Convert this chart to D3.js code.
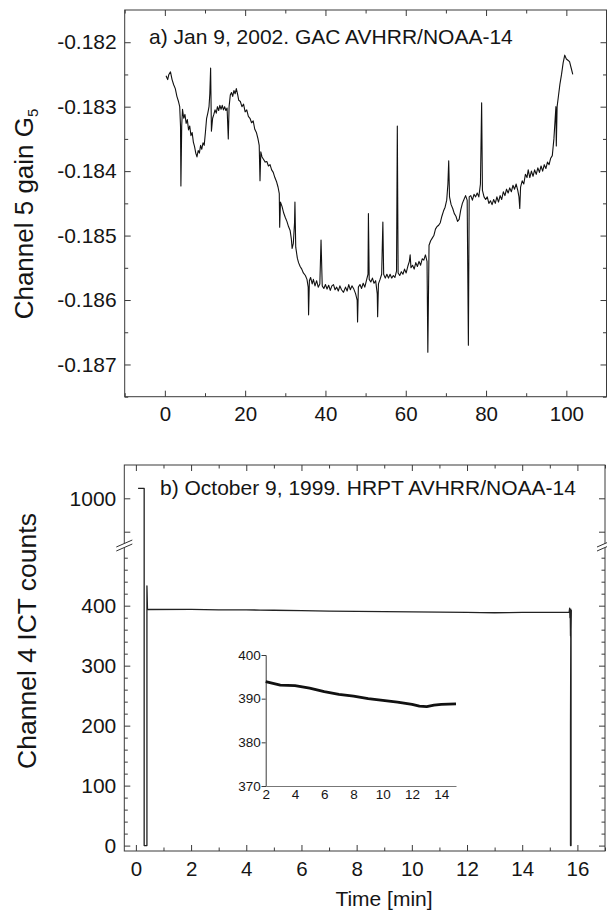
<!DOCTYPE html>
<html><head><meta charset="utf-8">
<script src="https://cdn.jsdelivr.net/npm/d3@7"></script>
<style>
body{margin:0;background:#fff}
svg{display:block}
text{font-family:"Liberation Sans",Arial,Helvetica,sans-serif;fill:#151515}
</style>
</head><body>
<svg id="chart" width="607" height="911"></svg>
<script>
// ---------- Panel a: Channel 5 gain G5, Jan 9 2002 ----------
const gainTime = [0.3,0.7,1.0,1.4,1.8,2.2,2.6,3.0,3.4,3.7,3.9,4.0,4.2,4.4,4.7,5.0,5.3,5.6,5.9,6.2,6.5,6.8,7.1,7.4,7.7,8.0,8.3,8.6,8.9,9.2,9.5,9.8,10.1,10.4,10.7,11.0,11.2,11.4,11.6,11.9,12.2,12.5,12.8,13.1,13.4,13.7,14.0,14.3,14.6,14.9,15.2,15.5,15.8,16.0,16.3,16.6,16.9,17.2,17.5,17.8,18.1,18.4,18.8,19.2,19.6,20.0,20.4,20.8,21.2,21.6,22.0,22.4,22.8,23.2,23.5,23.7,23.9,24.2,24.6,25.0,25.4,25.8,26.2,26.6,27.0,27.4,27.8,28.2,28.5,28.6,28.8,29.2,29.6,30.0,30.4,30.8,31.2,31.5,31.7,32.0,32.3,32.4,32.6,33.0,33.3,33.7,34.1,34.5,35.0,35.4,35.7,35.8,36.0,36.3,36.7,37.0,37.4,37.8,38.2,38.6,38.9,39.2,39.6,40.0,40.4,40.8,41.2,41.6,42.0,42.4,42.8,43.2,43.6,44.0,44.5,45.0,45.4,45.8,46.2,46.6,47.0,47.5,47.9,48.0,48.2,48.6,49.0,49.4,49.8,50.2,50.6,50.7,50.9,51.3,51.7,52.1,52.5,52.9,53.0,53.2,53.6,54.0,54.3,54.5,54.9,55.3,55.7,56.1,56.5,56.9,57.3,57.7,57.9,58.1,58.5,58.9,59.3,59.7,60.1,60.5,60.9,61.1,61.3,61.7,62.1,62.5,62.9,63.3,63.7,64.1,64.5,64.9,65.3,65.5,65.8,66.2,66.6,67.0,67.4,67.8,68.2,68.6,69.0,69.4,69.8,70.2,70.5,70.7,70.9,71.3,71.7,72.1,72.5,72.9,73.3,73.7,74.1,74.5,74.9,75.3,75.6,75.8,76.2,76.6,77.0,77.4,77.8,78.2,78.6,78.9,79.1,79.5,79.9,80.3,80.7,81.1,81.5,81.9,82.3,82.7,83.1,83.5,83.9,84.3,84.7,85.1,85.5,85.9,86.3,86.7,87.1,87.5,87.9,88.2,88.4,88.6,89.0,89.4,89.8,90.2,90.5,90.9,91.3,91.7,92.1,92.5,92.9,93.3,93.7,94.1,94.5,94.9,95.3,95.7,96.1,96.5,96.9,97.2,97.4,97.5,97.7,98.0,98.4,98.8,99.2,99.6,100.0,100.4,100.8,101.2,101.6];
const gainValue = [-0.18252,-0.18258,-0.18250,-0.18246,-0.18258,-0.18266,-0.18272,-0.18284,-0.18292,-0.18300,-0.18330,-0.18423,-0.18330,-0.18304,-0.18318,-0.18312,-0.18326,-0.18320,-0.18336,-0.18330,-0.18345,-0.18340,-0.18355,-0.18362,-0.18372,-0.18378,-0.18368,-0.18372,-0.18360,-0.18366,-0.18356,-0.18360,-0.18340,-0.18318,-0.18310,-0.18300,-0.18280,-0.18240,-0.18338,-0.18318,-0.18312,-0.18305,-0.18310,-0.18300,-0.18306,-0.18298,-0.18304,-0.18298,-0.18305,-0.18300,-0.18306,-0.18302,-0.18350,-0.18300,-0.18282,-0.18278,-0.18284,-0.18275,-0.18280,-0.18272,-0.18280,-0.18290,-0.18292,-0.18300,-0.18296,-0.18308,-0.18305,-0.18315,-0.18318,-0.18325,-0.18322,-0.18335,-0.18340,-0.18350,-0.18360,-0.18415,-0.18370,-0.18378,-0.18382,-0.18386,-0.18385,-0.18392,-0.18390,-0.18398,-0.18402,-0.18410,-0.18416,-0.18425,-0.18435,-0.18487,-0.18448,-0.18455,-0.18465,-0.18472,-0.18478,-0.18486,-0.18492,-0.18505,-0.18520,-0.18512,-0.18480,-0.18448,-0.18518,-0.18535,-0.18542,-0.18548,-0.18552,-0.18558,-0.18562,-0.18568,-0.18580,-0.18623,-0.18570,-0.18565,-0.18575,-0.18568,-0.18578,-0.18570,-0.18580,-0.18575,-0.18507,-0.18578,-0.18582,-0.18576,-0.18583,-0.18577,-0.18585,-0.18578,-0.18576,-0.18584,-0.18580,-0.18586,-0.18578,-0.18584,-0.18588,-0.18580,-0.18586,-0.18576,-0.18584,-0.18578,-0.18582,-0.18590,-0.18600,-0.18634,-0.18580,-0.18576,-0.18582,-0.18574,-0.18580,-0.18570,-0.18560,-0.18466,-0.18568,-0.18572,-0.18566,-0.18574,-0.18570,-0.18590,-0.18626,-0.18575,-0.18568,-0.18560,-0.18479,-0.18560,-0.18566,-0.18560,-0.18566,-0.18560,-0.18566,-0.18562,-0.18565,-0.18555,-0.18330,-0.18558,-0.18562,-0.18556,-0.18560,-0.18552,-0.18558,-0.18548,-0.18540,-0.18530,-0.18550,-0.18546,-0.18552,-0.18542,-0.18548,-0.18540,-0.18546,-0.18536,-0.18538,-0.18530,-0.18540,-0.18681,-0.18515,-0.18508,-0.18504,-0.18500,-0.18490,-0.18486,-0.18484,-0.18480,-0.18470,-0.18462,-0.18456,-0.18445,-0.18420,-0.18384,-0.18440,-0.18452,-0.18458,-0.18466,-0.18470,-0.18478,-0.18475,-0.18460,-0.18450,-0.18444,-0.18438,-0.18445,-0.18670,-0.18440,-0.18438,-0.18445,-0.18436,-0.18440,-0.18434,-0.18440,-0.18420,-0.18294,-0.18430,-0.18440,-0.18444,-0.18440,-0.18450,-0.18446,-0.18452,-0.18444,-0.18450,-0.18440,-0.18448,-0.18438,-0.18444,-0.18432,-0.18438,-0.18428,-0.18434,-0.18426,-0.18432,-0.18422,-0.18428,-0.18420,-0.18430,-0.18440,-0.18458,-0.18425,-0.18415,-0.18420,-0.18405,-0.18410,-0.18398,-0.18410,-0.18400,-0.18408,-0.18398,-0.18405,-0.18395,-0.18402,-0.18392,-0.18400,-0.18390,-0.18396,-0.18386,-0.18390,-0.18380,-0.18376,-0.18350,-0.18320,-0.18300,-0.18361,-0.18300,-0.18285,-0.18265,-0.18250,-0.18232,-0.18220,-0.18226,-0.18228,-0.18230,-0.18240,-0.18250];
const gainXTicks = [0,20,40,60,80,100];
const gainXMinor = [-10,10,30,50,70,90,110];
const gainYTicks = [-0.182,-0.183,-0.184,-0.185,-0.186,-0.187];
const gainYMinor = [-0.1825,-0.1835,-0.1845,-0.1855,-0.1865,-0.1875];
const titleA = "a) Jan 9, 2002. GAC AVHRR/NOAA-14";

// ---------- Panel b: Channel 4 ICT counts, Oct 9 1999 ----------
const ictTime = [0.08,0.30,0.30,0.40,0.40,0.42,0.45,2,3,4,4.5,5,6,7,8,9,10,11,12,12.5,13,13.5,14,15,15.70,15.72,15.73,15.74,15.75,15.74,15.76,15.75,15.75,15.77,15.77,15.78,15.77,15.76];
const ictCounts = [1030,1030,0,0,433,394,393.6,393.9,393.1,393.0,392.7,392.4,391.6,391.0,390.6,390.0,389.6,389.2,388.7,388.3,388.2,388.5,388.7,388.8,388.8,396,380,393,350,390,345,200,0,0,385,392,360,395];
const ictXTicks = [0,2,4,6,8,10,12,14,16];
const ictXMinor = [1,3,5,7,9,11,13,15,17];
const ictYLowMajor = [0,100,200,300,400];
const ictYLowMinor = [20,40,60,80,120,140,160,180,220,240,260,280,320,340,360,380,420,440,460,480];
const ictYHighTicks = [900,1000];
const ictYHighLabels = [1000];
const titleB = "b) October 9, 1999. HRPT AVHRR/NOAA-14";

// ---------- Inset ----------
const insetTime = [2,3,4,4.5,5,6,7,8,9,10,11,12,12.5,13,13.5,14,15];
const insetCounts = [393.9,393.1,393.0,392.7,392.4,391.6,391.0,390.6,390.0,389.6,389.2,388.7,388.3,388.2,388.5,388.7,388.8];
const insetXTicks = [2,4,6,8,10,12,14];
const insetYTicks = [370,380,390,400];

const svg = d3.select("#chart");
const frameColor = "#3a3a3a";
const FONT = '"Liberation Sans",Arial,sans-serif';

function styleAxis(g, fs){
  g.select(".domain").remove();
  g.selectAll(".tick line").attr("stroke", frameColor).attr("stroke-width", 1);
  g.selectAll(".tick text").attr("font-size", fs).attr("fill", "#151515").style("font-family", FONT);
}

// ===== Panel a =====
const A = {l:124.7, r:606.5, t:10, b:396.7};
const xA = d3.scaleLinear().domain([-10,110]).range([A.l, A.r]);
const yA = d3.scaleLinear().domain([-0.1875,-0.1815]).range([A.b, A.t]);

svg.append("rect").attr("x",A.l).attr("y",A.t).attr("width",A.r-A.l).attr("height",A.b-A.t)
  .attr("fill","none").attr("stroke",frameColor).attr("stroke-width",1);

svg.append("g").attr("transform",`translate(0,${A.b})`)
  .call(d3.axisBottom(xA).tickValues(gainXTicks).tickSize(-6).tickPadding(10).tickFormat(d3.format("d")))
  .call(g=>styleAxis(g,20.5));
svg.append("g").attr("transform",`translate(0,${A.b})`)
  .call(d3.axisBottom(xA).tickValues(gainXMinor).tickSize(-3.5).tickFormat(""))
  .call(g=>styleAxis(g,20));
svg.append("g").attr("transform",`translate(0,${A.t})`)
  .call(d3.axisTop(xA).tickValues(gainXTicks).tickSize(-6).tickFormat(""))
  .call(g=>styleAxis(g,20));
svg.append("g").attr("transform",`translate(0,${A.t})`)
  .call(d3.axisTop(xA).tickValues(gainXMinor).tickSize(-3.5).tickFormat(""))
  .call(g=>styleAxis(g,20));
svg.append("g").attr("transform",`translate(${A.l},0)`)
  .call(d3.axisLeft(yA).tickValues(gainYTicks).tickSize(-6).tickPadding(8)
    .tickFormat(d=>d3.format(".3f")(d).replace("−","-")))
  .call(g=>styleAxis(g,21));
svg.append("g").attr("transform",`translate(${A.l},0)`)
  .call(d3.axisLeft(yA).tickValues(gainYMinor).tickSize(-3.5).tickFormat(""))
  .call(g=>styleAxis(g,20));
svg.append("g").attr("transform",`translate(${A.r},0)`)
  .call(d3.axisRight(yA).tickValues(gainYTicks).tickSize(-6).tickFormat(""))
  .call(g=>styleAxis(g,20));
svg.append("g").attr("transform",`translate(${A.r},0)`)
  .call(d3.axisRight(yA).tickValues(gainYMinor).tickSize(-3.5).tickFormat(""))
  .call(g=>styleAxis(g,20));

const gainData = gainTime.map((t,i)=>[t,gainValue[i]]);
svg.append("path").datum(gainData)
  .attr("fill","none").attr("stroke","#111").attr("stroke-width",1.1).attr("stroke-linejoin","round")
  .attr("d", d3.line().x(d=>xA(d[0])).y(d=>yA(d[1])));

svg.append("text").attr("x",149).attr("y",43.5).attr("font-size",21).text(titleA);

const ylA = svg.append("text").attr("transform","translate(33,214) rotate(-90)")
  .attr("text-anchor","middle").attr("font-size",26);
ylA.append("tspan").text("Channel 5 gain G");
ylA.append("tspan").attr("font-size",15).attr("dy",5).text("5");

// ===== Panel b =====
const B = {l:124.3, r:605, t:465, b:851};
const xB = d3.scaleLinear().domain([-0.42,17.0]).range([B.l, B.r]);
const yLow = d3.scaleLinear().domain([-9,505]).range([B.b, 542.7]);
const yHigh = d3.scaleLinear().domain([900,1000]).range([531.7, 498.3]);
const yB = v => v > 700 ? yHigh(v) : yLow(v);

svg.append("rect").attr("x",B.l).attr("y",B.t).attr("width",B.r-B.l).attr("height",B.b-B.t)
  .attr("fill","none").attr("stroke",frameColor).attr("stroke-width",1);

svg.append("g").attr("transform",`translate(0,${B.b})`)
  .call(d3.axisBottom(xB).tickValues(ictXTicks).tickSize(-6).tickPadding(10).tickFormat(d3.format("d")))
  .call(g=>styleAxis(g,20.5));
svg.append("g").attr("transform",`translate(0,${B.b})`)
  .call(d3.axisBottom(xB).tickValues(ictXMinor).tickSize(-3.5).tickFormat(""))
  .call(g=>styleAxis(g,20));
svg.append("g").attr("transform",`translate(0,${B.t})`)
  .call(d3.axisTop(xB).tickValues(ictXTicks).tickSize(-6).tickFormat(""))
  .call(g=>styleAxis(g,20));
svg.append("g").attr("transform",`translate(0,${B.t})`)
  .call(d3.axisTop(xB).tickValues(ictXMinor).tickSize(-3.5).tickFormat(""))
  .call(g=>styleAxis(g,20));

[[B.l,d3.axisLeft,1],[B.r,d3.axisRight,0]].forEach(([px,axisFn,lab])=>{
  svg.append("g").attr("transform",`translate(${px},0)`)
    .call(axisFn(yLow).tickValues(ictYLowMajor).tickSize(-6).tickPadding(8).tickFormat(lab?d3.format("d"):""))
    .call(g=>styleAxis(g,21));
  svg.append("g").attr("transform",`translate(${px},0)`)
    .call(axisFn(yLow).tickValues(ictYLowMinor).tickSize(-3.5).tickFormat(""))
    .call(g=>styleAxis(g,20));
  svg.append("g").attr("transform",`translate(${px},0)`)
    .call(axisFn(yHigh).tickValues(ictYHighTicks).tickSize(-6).tickPadding(8)
      .tickFormat(d=> lab && ictYHighLabels.includes(d) ? d3.format("d")(d) : ""))
    .call(g=>styleAxis(g,21));
  // axis break marks
  const by = 544;
  svg.append("path").attr("d",`M${px-8},${by+3} L${px+8},${by-4} L${px+8},${by} L${px-8},${by+7} Z`)
    .attr("fill","#fff").attr("stroke","none");
  svg.append("path").attr("d",`M${px-8},${by+3} L${px+8},${by-4} M${px-8},${by+7} L${px+8},${by}`)
    .attr("stroke","#333").attr("stroke-width",1).attr("fill","none");
});

const ictData = ictTime.map((t,i)=>[t,ictCounts[i]]);
svg.append("path").datum(ictData)
  .attr("fill","none").attr("stroke","#222").attr("stroke-width",1.3).attr("stroke-linejoin","round")
  .attr("d", d3.line().x(d=>xB(d[0])).y(d=>yB(d[1])));

svg.append("text").attr("x",160).attr("y",495).attr("font-size",21).text(titleB);
svg.append("text").attr("transform","translate(36,641) rotate(-90)")
  .attr("text-anchor","middle").attr("font-size",26.5).text("Channel 4 ICT counts");
svg.append("text").attr("x",384).attr("y",906).attr("text-anchor","middle")
  .attr("font-size",21).text("Time [min]");

// ===== Inset =====
const I = {l:265.7, r:456, t:655, b:786};
const xI = d3.scaleLinear().domain([2,15]).range([I.l, I.r]);
const yI = d3.scaleLinear().domain([370,400]).range([I.b, I.t]);
svg.append("g").attr("transform",`translate(${I.l},0)`)
  .call(d3.axisLeft(yI).tickValues(insetYTicks).tickSize(4).tickPadding(1).tickFormat(d3.format("d")))
  .call(g=>{ g.select(".domain").attr("stroke",frameColor); g.selectAll(".tick line").attr("stroke",frameColor);
    g.selectAll(".tick text").attr("font-size",13.5).attr("fill","#151515").style("font-family",FONT);});
svg.append("g").attr("transform",`translate(0,${I.b})`)
  .call(d3.axisBottom(xI).tickValues(insetXTicks).tickSize(0).tickPadding(3).tickFormat(d3.format("d")))
  .call(g=>{ g.select(".domain").attr("stroke","#777");
    g.selectAll(".tick text").attr("font-size",13.5).attr("fill","#151515").style("font-family",FONT);});
const insetData = insetTime.map((t,i)=>[t,insetCounts[i]]);
svg.append("path").datum(insetData)
  .attr("fill","none").attr("stroke","#111").attr("stroke-width",2.8).attr("stroke-linejoin","round")
  .attr("d", d3.line().x(d=>xI(d[0])).y(d=>yI(d[1])));
</script>
</body></html>
